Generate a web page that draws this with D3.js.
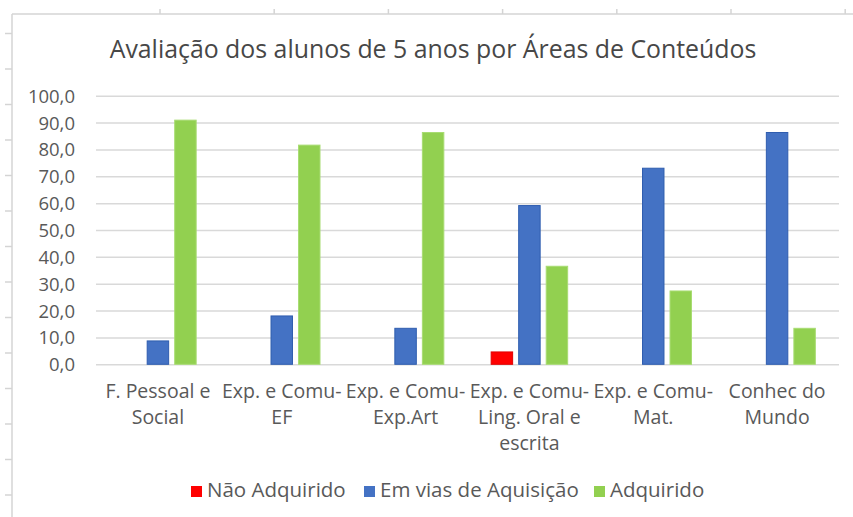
<!DOCTYPE html>
<html>
<head>
<meta charset="utf-8">
<script src="https://cdn.jsdelivr.net/npm/d3@7"></script>
<style>
  html, body { margin: 0; padding: 0; background: #fff; }
  svg { display: block; }
  text { font-family: "Open Sans", "Noto Sans", sans-serif; fill: #595959; }
</style>
</head>
<body>
<svg id="chart" width="853" height="517"></svg>
<script>
// ---- data ----
const title = "Avaliação dos alunos de 5 anos por Áreas de Conteúdos";
const categories = [
  "F. Pessoal e Social",
  "Exp. e Comu-EF",
  "Exp. e Comu-Exp.Art",
  "Exp. e Comu-Ling. Oral e escrita",
  "Exp. e Comu-Mat.",
  "Conhec do Mundo"
];
const categoryLines = [
  ["F. Pessoal e", "Social"],
  ["Exp. e Comu-", "EF"],
  ["Exp. e Comu-", "Exp.Art"],
  ["Exp. e Comu-", "Ling. Oral e", "escrita"],
  ["Exp. e Comu-", "Mat."],
  ["Conhec do", "Mundo"]
];
const seriesNames = ["Não Adquirido", "Em vias de Aquisição", "Adquirido"];
const naoAdquirido = [0, 0, 0, 4.6, 0, 0];
const emVias = [8.7, 18.0, 13.4, 59.1, 73.0, 86.3];
const adquirido = [90.9, 81.6, 86.3, 36.5, 27.3, 13.4];
const seriesValues = [naoAdquirido, emVias, adquirido];
const seriesColors = ["#FF0000", "#4472C4", "#92D050"];
const seriesStroke = ["#E00000", "#2F5DAF", "#A8DC72"];
const yTicks = [0, 10, 20, 30, 40, 50, 60, 70, 80, 90, 100];

// ---- layout ----
const svg = d3.select("#chart");
const plot = { left: 96, right: 839, top: 95.7, bottom: 364.3 };
const labelSize = 19.5;
const legendSize = 20.5;

// spreadsheet frame artifacts
const frame = svg.append("g").attr("stroke", "#d4d4d4").attr("stroke-width", 1.5).attr("fill", "none");
frame.append("line").attr("x1", 12).attr("x2", 12).attr("y1", 14).attr("y2", 517);
frame.append("line").attr("x1", 12).attr("x2", 853).attr("y1", 14).attr("y2", 14);
for (let i = 0; i < 14; i++) {
  const yy = 33.5 + i * 35.5;
  frame.append("line").attr("x1", 5).attr("x2", 12).attr("y1", yy).attr("y2", yy);
}
for (let i = 0; i < 7; i++) {
  const xx = 160 + i * 114.2;
  frame.append("line").attr("x1", xx).attr("x2", xx).attr("y1", 9).attr("y2", 14);
}

// title
const t = svg.append("text")
  .attr("x", 433).attr("y", 58)
  .attr("text-anchor", "middle")
  .style("font-size", "24px")
  .style("fill", "#474747")
  .text(title);
(function fit() {
  const target = 647;
  const w = t.node().getComputedTextLength();
  t.style("font-size", (24 * target / w) + "px");
})();

// scales
const x0 = d3.scaleBand().domain(categories).range([plot.left, plot.right]).padding(0);
const groupW = 76.5;
const x1 = d3.scaleBand().domain(seriesNames).range([0, groupW]).paddingInner(0.22).paddingOuter(0);
const y = d3.scaleLinear().domain([0, 100]).range([plot.bottom, plot.top]);

// gridlines
const yAxis = d3.axisLeft(y)
  .tickValues(yTicks)
  .tickSize(-(plot.right - plot.left))
  .tickPadding(20)
  .tickFormat(d => d3.format(".1f")(d).replace(".", ","));
const gy = svg.append("g").attr("transform", `translate(${plot.left},0)`).call(yAxis);
gy.select(".domain").remove();
gy.selectAll(".tick line").attr("stroke", "#d9d9d9").attr("stroke-width", 1.5);
gy.selectAll(".tick text")
  .attr("x", 75 - plot.left)
  .style("font-size", "18.5px")
  .style("fill", "#595959")
  .attr("dy", "0.35em");

// bars
const groups = svg.append("g").selectAll("g")
  .data(categories)
  .join("g")
  .attr("transform", d => `translate(${x0(d) + (x0.bandwidth() - groupW) / 2},0)`);

groups.selectAll("rect")
  .data((d, i) => seriesNames.map((s, j) => ({ s, j, v: seriesValues[j][i] })).filter(e => e.v > 0))
  .join("rect")
  .attr("x", e => x1(e.s))
  .attr("width", x1.bandwidth())
  .attr("y", e => y(e.v))
  .attr("height", e => y(0) - y(e.v))
  .attr("fill", e => seriesColors[e.j])
  .attr("stroke", e => seriesStroke[e.j])
  .attr("stroke-width", 1);

// category labels
const xl = svg.append("g");
categories.forEach((c, i) => {
  const cx = x0(c) + x0.bandwidth() / 2;
  const txt = xl.append("text")
    .attr("x", cx).attr("y", 398)
    .attr("text-anchor", "middle")
    .style("font-size", labelSize + "px");
  categoryLines[i].forEach((ln, k) => {
    txt.append("tspan").attr("x", cx).attr("y", 398 + k * 26).text(ln);
  });
});

// legend
const legendX = [191, 364, 594];
const leg = svg.append("g");
seriesNames.forEach((s, j) => {
  leg.append("rect")
    .attr("x", legendX[j]).attr("y", 486)
    .attr("width", 11).attr("height", 11)
    .attr("fill", seriesColors[j]);
  leg.append("text")
    .attr("x", legendX[j] + 16).attr("y", 497)
    .style("font-size", legendSize + "px")
    .text(s);
});
</script>
</body>
</html>
